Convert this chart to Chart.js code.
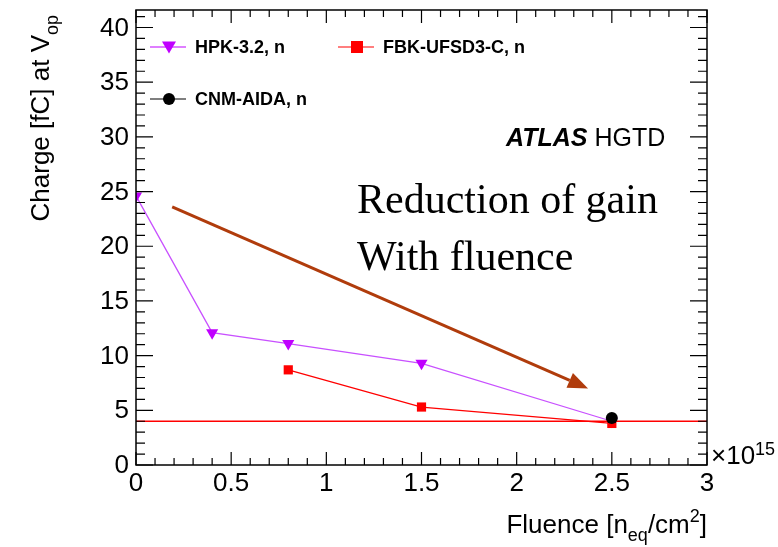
<!DOCTYPE html>
<html>
<head>
<meta charset="utf-8">
<script src="https://cdn.jsdelivr.net/npm/chart.js@4"></script>
<style>
  html, body { margin: 0; padding: 0; background: #fff; }
  canvas { display: block; }
</style>
</head>
<body>
<canvas id="chart" width="778" height="547"></canvas>
<script>
// Charge vs fluence
const hpkFluence = [0, 0.4, 0.8, 1.5, 2.5];
const hpkCharge = [24.6, 12.1, 11.1, 9.3, 4.0];
const fbkFluence = [0.8, 1.5, 2.5];
const fbkCharge = [8.7, 5.3, 3.8];
const cnmFluence = [2.5];
const cnmCharge = [4.3];
const thresholdCharge = 4;

const xRange = [0, 3];
const yRange = [0, 41.6];
const xMajorStep = 0.5, xMinorStep = 0.1;
const yMajorStep = 5, yMinorStep = 1;

// annotation arrow, data coordinates
const arrowFrom = [0.19, 23.6];
const arrowTo = [2.375, 7.0];
const noteLines = ['Reduction of gain', 'With fluence'];

const MAGENTA = '#c000ff';
const RED = '#ff0000';
const SANS = '"Liberation Sans", Arial, sans-serif';

function toPoints(xs, ys) {
    return xs.map((x, i) => ({ x: x, y: ys[i] }));
}

const legendItems = [
    { label: 'HPK-3.2, n', color: MAGENTA, marker: 'tri', col: 0, row: 0 },
    { label: 'FBK-UFSD3-C, n', color: RED, marker: 'sq', col: 1, row: 0 },
    { label: 'CNM-AIDA, n', color: '#000', marker: 'dot', col: 0, row: 1 }
];

function drawMarker(ctx, type, x, y, color) {
    ctx.fillStyle = color;
    ctx.beginPath();
    if (type === 'tri') {
        ctx.moveTo(x - 7, y - 5.5);
        ctx.lineTo(x + 7, y - 5.5);
        ctx.lineTo(x, y + 6.5);
        ctx.closePath();
    } else if (type === 'sq') {
        ctx.rect(x - 6, y - 6, 12, 12);
    } else {
        ctx.arc(x, y, 6, 0, Math.PI * 2);
    }
    ctx.fill();
}

// draws a run of text pieces (normal / sub / sup) starting at x along the baseline
function drawRich(ctx, parts, x, y) {
    parts.forEach(p => {
        ctx.font = p.f;
        ctx.fillText(p.t, x, y + p.dy);
        x += ctx.measureText(p.t).width;
    });
}
function richWidth(ctx, parts) {
    let w = 0;
    parts.forEach(p => { ctx.font = p.f; w += ctx.measureText(p.t).width; });
    return w;
}

const rootFrame = {
    id: 'rootFrame',
    afterDraw(chart) {
        const ctx = chart.ctx;
        const xs = chart.scales.x, ys = chart.scales.y;
        const a = chart.chartArea;
        ctx.save();

        // frame
        ctx.strokeStyle = '#000';
        ctx.lineWidth = 1.5;
        ctx.strokeRect(a.left, a.top, a.right - a.left, a.bottom - a.top);

        // inside ticks, all four sides
        ctx.lineWidth = 1.2;
        ctx.beginPath();
        for (let i = 0; xRange[0] + i * xMinorStep <= xRange[1] + 1e-9; i++) {
            const px = xs.getPixelForValue(xRange[0] + i * xMinorStep);
            const len = (i % 5 === 0) ? 13 : 7;
            ctx.moveTo(px, a.bottom); ctx.lineTo(px, a.bottom - len);
            ctx.moveTo(px, a.top); ctx.lineTo(px, a.top + len);
        }
        for (let i = 0; yRange[0] + i * yMinorStep <= yRange[1] + 1e-9; i++) {
            const py = ys.getPixelForValue(yRange[0] + i * yMinorStep);
            const len = (i % 5 === 0) ? 17 : 9;
            ctx.moveTo(a.left, py); ctx.lineTo(a.left + len, py);
            ctx.moveTo(a.right, py); ctx.lineTo(a.right - len, py);
        }
        ctx.stroke();

        // tick labels from the library's own tick lists
        ctx.fillStyle = '#000';
        ctx.font = '26px ' + SANS;
        ctx.textAlign = 'right';
        ctx.textBaseline = 'middle';
        ys.ticks.forEach(t => {
            ctx.fillText(String(t.value), a.left - 7, ys.getPixelForValue(t.value) + 1);
        });
        ctx.textAlign = 'center';
        ctx.textBaseline = 'top';
        xs.ticks.forEach(t => {
            ctx.fillText(String(t.value), xs.getPixelForValue(t.value), a.bottom + 6);
        });

        // arrow
        const x1 = xs.getPixelForValue(arrowFrom[0]), y1 = ys.getPixelForValue(arrowFrom[1]);
        const x2 = xs.getPixelForValue(arrowTo[0]), y2 = ys.getPixelForValue(arrowTo[1]);
        const ang = Math.atan2(y2 - y1, x2 - x1);
        const headLen = 20, headW = 8;
        const bx = x2 - headLen * Math.cos(ang), by = y2 - headLen * Math.sin(ang);
        ctx.strokeStyle = '#b03c0c';
        ctx.fillStyle = '#b03c0c';
        ctx.lineWidth = 3;
        ctx.beginPath();
        ctx.moveTo(x1, y1); ctx.lineTo(bx, by);
        ctx.stroke();
        ctx.beginPath();
        ctx.moveTo(x2, y2);
        ctx.lineTo(bx + headW * Math.sin(ang), by - headW * Math.cos(ang));
        ctx.lineTo(bx - headW * Math.sin(ang), by + headW * Math.cos(ang));
        ctx.closePath();
        ctx.fill();

        // note text
        ctx.fillStyle = '#000';
        ctx.font = '42px "Liberation Serif", serif';
        ctx.textAlign = 'left';
        ctx.textBaseline = 'alphabetic';
        ctx.fillText(noteLines[0], 357, 213);
        ctx.fillText(noteLines[1], 357, 270);

        // ATLAS HGTD
        ctx.font = 'italic bold 25px ' + SANS;
        ctx.fillText('ATLAS', 506, 146);
        const aw = ctx.measureText('ATLAS ').width;
        ctx.font = '25px ' + SANS;
        ctx.fillText('HGTD', 506 + aw, 146);

        // legend
        legendItems.forEach(it => {
            const lx = 150 + it.col * 188, ly = 47 + it.row * 52;
            ctx.strokeStyle = it.color;
            ctx.lineWidth = 1.2;
            ctx.beginPath();
            ctx.moveTo(lx, ly); ctx.lineTo(lx + 36, ly);
            ctx.stroke();
            drawMarker(ctx, it.marker, lx + 19, ly, it.color);
            ctx.fillStyle = '#000';
            ctx.font = 'bold 18px ' + SANS;
            ctx.textBaseline = 'middle';
            ctx.fillText(it.label, lx + 45, ly + 1);
        });

        // x axis title, right aligned to frame
        ctx.textBaseline = 'alphabetic';
        const big = '26px ' + SANS;
        const small = '18px ' + SANS;
        const xTitle = [
            { t: 'Fluence [n', f: big, dy: 0 },
            { t: 'eq', f: small, dy: 8 },
            { t: '/cm', f: big, dy: 0 },
            { t: '2', f: small, dy: -11 },
            { t: ']', f: big, dy: 0 }
        ];
        drawRich(ctx, xTitle, a.right - richWidth(ctx, xTitle), 533);

        // x10^15
        drawRich(ctx, [
            { t: '\u00d710', f: big, dy: 0 },
            { t: '15', f: small, dy: -9 }
        ], a.right + 4, 464);

        // y axis title, rotated, ending near the top
        const yTitle = [
            { t: 'Charge [fC] at V', f: big, dy: 0 },
            { t: 'op', f: small, dy: 9 }
        ];
        ctx.translate(49, 0);
        ctx.rotate(-Math.PI / 2);
        drawRich(ctx, yTitle, -(15 + richWidth(ctx, yTitle)), 0);

        ctx.restore();
    }
};

new Chart(document.getElementById('chart'), {
    type: 'line',
    data: {
        datasets: [
            {
                label: 'threshold',
                data: toPoints(xRange, [thresholdCharge, thresholdCharge]),
                borderColor: RED,
                borderWidth: 1.5,
                pointRadius: 0,
                order: 4
            },
            {
                label: 'HPK-3.2, n',
                data: toPoints(hpkFluence, hpkCharge),
                borderColor: '#c850ff',
                borderWidth: 1.3,
                pointStyle: 'triangle',
                rotation: 180,
                pointRadius: 7,
                pointBackgroundColor: MAGENTA,
                pointBorderColor: MAGENTA,
                pointBorderWidth: 0,
                order: 3
            },
            {
                label: 'FBK-UFSD3-C, n',
                data: toPoints(fbkFluence, fbkCharge),
                borderColor: RED,
                borderWidth: 1.3,
                pointStyle: 'rect',
                pointRadius: 6.5,
                pointBackgroundColor: RED,
                pointBorderColor: RED,
                pointBorderWidth: 0,
                order: 2
            },
            {
                label: 'CNM-AIDA, n',
                data: toPoints(cnmFluence, cnmCharge),
                borderColor: '#000',
                pointStyle: 'circle',
                pointRadius: 6,
                pointBackgroundColor: '#000',
                pointBorderColor: '#000',
                pointBorderWidth: 0,
                order: 1
            }
        ]
    },
    options: {
        responsive: false,
        animation: false,
        layout: { padding: { left: 0, right: 71, top: 10, bottom: 0 } },
        plugins: {
            legend: { display: false },
            tooltip: { enabled: false }
        },
        scales: {
            x: {
                type: 'linear',
                min: xRange[0],
                max: xRange[1],
                grid: { display: false, drawTicks: false },
                border: { display: false },
                ticks: { display: false, stepSize: xMajorStep },
                afterFit: s => { s.height = 82; }
            },
            y: {
                type: 'linear',
                min: yRange[0],
                max: yRange[1],
                grid: { display: false, drawTicks: false },
                border: { display: false },
                ticks: { display: false, stepSize: yMajorStep, includeBounds: false },
                afterFit: s => { s.width = 136; }
            }
        }
    },
    plugins: [rootFrame]
});
</script>
</body>
</html>
